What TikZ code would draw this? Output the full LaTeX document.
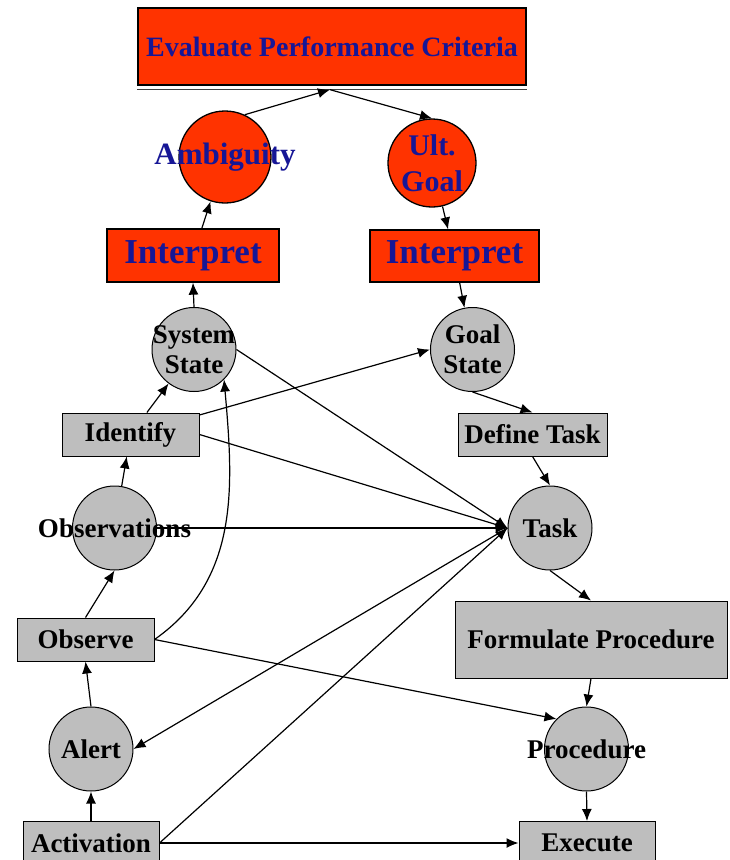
\documentclass[tikz,border=0pt]{standalone}
\usepackage{fontspec}
\setmainfont{Liberation Serif}
\usetikzlibrary{arrows.meta,positioning}
\definecolor{critred}{RGB}{255,51,0}
\definecolor{stategray}{RGB}{190,190,190}
\definecolor{critblue}{RGB}{22,22,150}
\tikzstyle{actbox} = [rectangle, draw=black, fill=stategray, line width=1pt, inner sep=0pt, minimum width=137pt, minimum height=43pt, font=\fontsize{27}{30}\selectfont\bfseries]
\tikzstyle{statenode} = [circle, draw=black, fill=stategray, line width=1pt, inner sep=0pt, minimum size=84pt]
\tikzstyle{critbox} = [rectangle, draw=black, fill=critred, line width=1.3pt, inner sep=0pt, text=critblue]
\tikzstyle{critnode} = [circle, draw=black, fill=critred, line width=1.3pt, inner sep=0pt]

\begin{document}
\begin{tikzpicture}[x=1pt,y=-1pt,->,>={Latex[length=12pt,width=10pt]},line width=1.2pt,
    every label/.style={font=\fontsize{27}{30}\selectfont\bfseries, align=center}]
            \useasboundingbox (0,0) rectangle (730,860);

            % top: criteria and interpretation
            \node[critbox,minimum width=388pt,minimum height=77pt,font=\fontsize{28}{30}\selectfont\bfseries] (eval) at (332,46.5) {Evaluate Performance Criteria};
            \node[critnode,minimum size=92pt,label={[text=critblue,font=\fontsize{31}{34}\selectfont\bfseries]center:Ambiguity}] (amb) at (225,157) {};
            \node[critnode,minimum size=88pt,label={[text=critblue,font=\fontsize{30}{36}\selectfont\bfseries]center:Ult.\\Goal}] (ult) at (432,163) {};
            \node[critbox,minimum width=172pt,minimum height=53pt,font=\fontsize{35}{38}\selectfont\bfseries] (interpL) at (193,255.5) {Interpret};
            \node[critbox,minimum width=169pt,minimum height=52pt,font=\fontsize{35}{38}\selectfont\bfseries] (interpR) at (454.5,256) {Interpret};
            \draw[-,draw=black!75] ([yshift=-4pt]eval.south west) -- ([yshift=-4pt]eval.south east);
            \coordinate (evalbase) at ([xshift=-2pt,yshift=-4pt]eval.south);

            % left column
            \node[statenode,label={center:System\\State}] (sys) at (194,349.5) {};
            \node[actbox] (ident) at (130.5,434.5) {Identify};
            \node[statenode,label={center:Observations}] (obs) at (114.5,528) {};
            \node[actbox] (observe) at (85.5,639.5) {Observe};
            \node[statenode,label={center:Alert}] (alert) at (91,749) {};
            \node[actbox,minimum width=136pt] (activ) at (91,843) {Activation};

            % right column
            \node[statenode,label={center:Goal\\State}] (goal) at (472.5,349.5) {};
            \node[actbox,minimum width=149pt] (deftask) at (532.5,434.5) {Define Task};
            \node[statenode,label={center:Task}] (task) at (550,528) {};
            \node[actbox,minimum width=272pt,minimum height=77pt] (form) at (591,639.5) {Formulate Procedure};
            \node[statenode,label={center:Procedure}] (proc) at (586.5,749) {};
            \node[actbox,minimum width=136pt] (exec) at (587,843) {Execute};

            \path (amb.65)        edge (evalbase)
            (evalbase)     edge (ult.north)
            (interpL)      edge (amb)
            (ult)          edge (interpR)
            (sys.north)    edge (interpL.south)
            (interpR)      edge (goal)
            (ident)        edge (sys)
            edge (goal.west)
            (ident.east)   edge (task.west)
            (sys.east)     edge (task.west)
            (obs.east)     edge (task.west)
            (obs)          edge (ident)
            (observe.north) edge (obs.south)
            (observe.east) edge [out=35,in=-85] (sys.south east)
            edge (proc.north west)
            (alert.north)  edge (observe.south)
            (activ.north)  edge (alert.south)
            (activ.east)   edge (task.west)
            edge (exec.west)
            (task.west)    edge (alert.east)
            (goal.south)   edge (deftask.north)
            (deftask.south) edge (task.north)
            (task.south)   edge (form.north)
            (form.south)   edge (proc.north)
            (proc.south)   edge (exec.north);
        \end{tikzpicture}
\end{document}
